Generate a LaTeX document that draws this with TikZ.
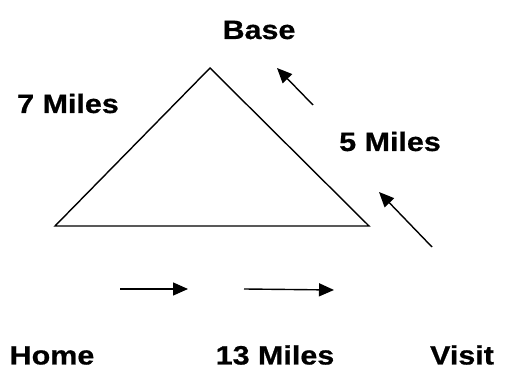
\documentclass[tikz,border=0pt]{standalone}
\usepackage{fontspec}
\setmainfont{Liberation Sans}[BoldFeatures={FakeBold=0.6}]
\usetikzlibrary{arrows.meta}
\tikzset{
  lbl/.style={inner sep=0pt, anchor=base, font=\fontsize{26.5}{30}\selectfont\bfseries},
  side/.style={line width=1.4pt, line join=miter},
  dir/.style={line width=1.4pt, -{Triangle[length=15pt,width=13pt]}}
}
\newcommand{\wide}[1]{\scalebox{1.15}[1]{#1}}
\begin{document}
\begin{tikzpicture}[x=1pt,y=1pt]
  \useasboundingbox (0,0) rectangle (505,371);
  % triangle corners
  \coordinate (apex) at (210,303);
  \coordinate (home) at (55,145);
  \coordinate (visit) at (369,145);
  \draw[side] (home) -- (apex) -- (visit) -- cycle;

  % labels
  \node[lbl] (base) at (259,332) {\wide{Base}};
  \node[lbl] (seven) at (68,258) {\wide{7 Miles}};
  \node[lbl] (five) at (390,220) {\wide{5 Miles}};
  \node[lbl] (hm) at (52,6.5) {\wide{Home}};
  \node[lbl] (thirteen) at (275,6.5) {\wide{13 Miles}};
  \node[lbl] (vs) at (462,6.5) {\wide{Visit}};

  % direction arrows
  \coordinate (a1s) at (120,82);
  \coordinate (a1e) at (188,82);
  \coordinate (a2s) at (244,82);
  \coordinate (a2e) at (334,81);
  \coordinate (a3s) at (432,124);
  \coordinate (a3e) at (379,179);
  \coordinate (a4s) at (313,266);
  \coordinate (a4e) at (277,303);
  \draw[dir] (a1s) -- (a1e);
  \draw[dir] (a2s) -- (a2e);
  \draw[dir] (a3s) -- (a3e);
  \draw[dir] (a4s) -- (a4e);
\end{tikzpicture}
\end{document}
